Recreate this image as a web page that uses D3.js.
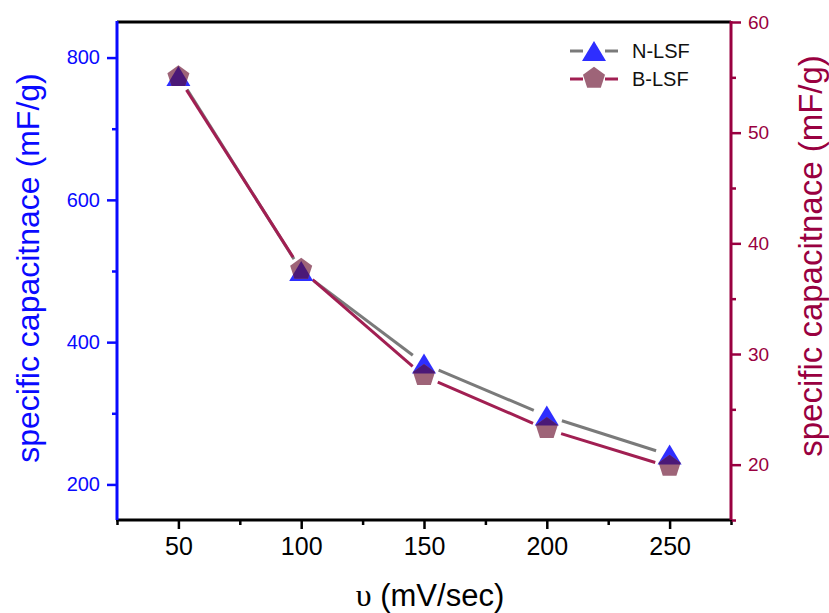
<!DOCTYPE html>
<html>
<head>
<meta charset="utf-8">
<script src="https://cdn.jsdelivr.net/npm/d3@7"></script>
<style>
  html, body { margin: 0; padding: 0; background: #fff; }
  svg { display: block; font-family: Arial, "Liberation Sans", sans-serif; }
</style>
</head>
<body>
<svg id="chart" width="829" height="613"></svg>
<script>
// ---- data ----
const scanRates = [50, 100, 150, 200, 250];
const nLSF = [774, 500, 370, 297, 242];          // left axis (mF/g)
const bLSF = [55.0, 37.6, 28.0, 23.2, 19.8];     // right axis (mF/g)
const xTicks = [50, 100, 150, 200, 250];
const xMinorTicks = [25, 75, 125, 175, 225, 275];
const yLeftTicks = [200, 400, 600, 800];
const yLeftMinor = [300, 500, 700];
const yRightTicks = [20, 30, 40, 50, 60];
const yRightMinor = [15, 25, 35, 45, 55];
const seriesNames = ["N-LSF", "B-LSF"];

// ---- styles ----
const leftColor = "#0a0aff";
const rightColor = "#990040";
const triColor = "#2e2eff";
const pentColor = "#9e6478";
const overlapColor = "#4b1877";
const grayLine = "#7a7a7a";
const wineLine = "#a11f52";

const svg = d3.select("#chart");
const L = 117, R = 731, T = 22, B = 520;

const x = d3.scaleLinear().domain([25, 275]).range([L, R]);
const yL = d3.scaleLinear().domain([150, 850]).range([B, T]);
const yR = d3.scaleLinear().domain([15, 60]).range([B, T]);

// ---- marker shapes ----
function triPath(cx, cy) {
  return `M${cx},${cy - 10}L${cx + 12},${cy + 10}L${cx - 12},${cy + 10}Z`;
}
function pentPath(cx, cy) {
  const r = 11.6, pts = [];
  const oy = cy - 0.0955 * r + 0.5;
  for (let i = 0; i < 5; i++) {
    const a = -Math.PI / 2 + i * 2 * Math.PI / 5;
    pts.push([cx + r * Math.cos(a), oy + r * Math.sin(a)]);
  }
  return "M" + pts.map(p => p.join(",")).join("L") + "Z";
}

// ---- gapped line segments ----
function drawGapped(g, pts, color, gap, off) {
  for (let i = 0; i < pts.length - 1; i++) {
    const [x0, y0] = pts[i], [x1, y1] = pts[i + 1];
    const dx = x1 - x0, dy = y1 - y0, len = Math.hypot(dx, dy);
    const ux = dx / len, uy = dy / len;
    g.append("line")
      .attr("x1", x0 + ux * gap + off).attr("y1", y0 + uy * gap + off)
      .attr("x2", x1 - ux * gap + off).attr("y2", y1 - uy * gap + off)
      .attr("stroke", color).attr("stroke-width", 3);
  }
}

const nPts = scanRates.map((v, i) => [x(v), yL(nLSF[i])]);
const bPts = scanRates.map((v, i) => [x(v), yR(bLSF[i])]);

const gLines = svg.append("g");
drawGapped(gLines, nPts, grayLine, 15, 0.8);
drawGapped(gLines, bPts, wineLine, 15, 0);

// ---- markers ----
const defs = svg.append("defs");
bPts.forEach((p, i) => {
  defs.append("clipPath").attr("id", "pc" + i)
    .append("path").attr("d", pentPath(p[0], p[1]));
});
const gM = svg.append("g");
nPts.forEach(p => gM.append("path").attr("d", triPath(p[0], p[1])).attr("fill", triColor));
bPts.forEach(p => gM.append("path").attr("d", pentPath(p[0], p[1])).attr("fill", pentColor));
nPts.forEach((p, i) => gM.append("path").attr("d", triPath(p[0], p[1]))
  .attr("fill", overlapColor).attr("clip-path", `url(#pc${i})`));

// ---- axes ----
function styleAxis(g, color, fontSize) {
  g.select(".domain").remove();
  g.selectAll(".tick line").attr("stroke", color).attr("stroke-width", 2.5);
  g.selectAll(".tick text").attr("fill", color).attr("font-size", fontSize)
    .attr("font-family", "Arial, 'Liberation Sans', sans-serif");
}

// bottom
const gx = svg.append("g").attr("transform", `translate(0,${B})`)
  .call(d3.axisBottom(x).tickValues(xTicks).tickSize(9).tickSizeOuter(0).tickPadding(8).tickFormat(d3.format("d")));
styleAxis(gx, "#000", 25);
const gxm = svg.append("g").attr("transform", `translate(0,${B})`)
  .call(d3.axisBottom(x).tickValues(xMinorTicks).tickSize(5).tickSizeOuter(0).tickFormat(""));
styleAxis(gxm, "#000", 0);

// left
const gyl = svg.append("g").attr("transform", `translate(${L},0)`)
  .call(d3.axisLeft(yL).tickValues(yLeftTicks).tickSize(10).tickSizeOuter(0).tickPadding(7).tickFormat(d3.format("d")));
styleAxis(gyl, leftColor, 20);
const gylm = svg.append("g").attr("transform", `translate(${L},0)`)
  .call(d3.axisLeft(yL).tickValues(yLeftMinor).tickSize(5).tickSizeOuter(0).tickFormat(""));
styleAxis(gylm, leftColor, 0);

// right
const gyr = svg.append("g").attr("transform", `translate(${R},0)`)
  .call(d3.axisRight(yR).tickValues(yRightTicks).tickSize(10).tickSizeOuter(0).tickPadding(7).tickFormat(d3.format("d")));
styleAxis(gyr, rightColor, 19);
const gyrm = svg.append("g").attr("transform", `translate(${R},0)`)
  .call(d3.axisRight(yR).tickValues(yRightMinor).tickSize(5).tickSizeOuter(0).tickFormat(""));
styleAxis(gyrm, rightColor, 0);

// frame lines
svg.append("line").attr("x1", L).attr("x2", R).attr("y1", T).attr("y2", T).attr("stroke", "#000").attr("stroke-width", 3);
svg.append("line").attr("x1", L - 1).attr("x2", R + 1).attr("y1", B).attr("y2", B).attr("stroke", "#000").attr("stroke-width", 3);
svg.append("line").attr("x1", L).attr("x2", L).attr("y1", T - 1).attr("y2", B).attr("stroke", leftColor).attr("stroke-width", 3);
svg.append("line").attr("x1", R).attr("x2", R).attr("y1", T - 1).attr("y2", B).attr("stroke", rightColor).attr("stroke-width", 3);

// ---- axis titles ----
const xt = svg.append("text").attr("x", 430).attr("y", 606).attr("text-anchor", "middle")
  .attr("font-size", 31).attr("fill", "#000");
xt.append("tspan").attr("font-family", "'Liberation Serif', 'DejaVu Serif', serif").attr("font-size", 32).text("υ");
xt.append("tspan").text(" (mV/sec)");
svg.append("text").attr("transform", "translate(39,268) rotate(-90)").attr("text-anchor", "middle")
  .attr("font-size", 32).attr("fill", leftColor).text("specific capacitnace (mF/g)");
svg.append("text").attr("transform", "translate(822,256) rotate(-90)").attr("text-anchor", "middle")
  .attr("font-size", 33).attr("fill", rightColor).text("specific capacitnace (mF/g)");

// ---- legend ----
const legRows = [
  { name: seriesNames[0], line: grayLine, y: 51, shape: "tri" },
  { name: seriesNames[1], line: wineLine, y: 79, shape: "pent" }
];
const gLeg = svg.append("g");
legRows.forEach(r => {
  gLeg.append("line").attr("x1", 570).attr("x2", 583).attr("y1", r.y).attr("y2", r.y).attr("stroke", r.line).attr("stroke-width", 3);
  gLeg.append("line").attr("x1", 605).attr("x2", 618).attr("y1", r.y).attr("y2", r.y).attr("stroke", r.line).attr("stroke-width", 3);
  gLeg.append("path").attr("d", r.shape === "tri" ? triPath(594, r.y) : pentPath(594, r.y))
    .attr("fill", r.shape === "tri" ? triColor : pentColor);
  gLeg.append("text").attr("x", 632).attr("y", r.y + 7).attr("font-size", 20).attr("fill", "#111").text(r.name);
});
</script>
</body>
</html>
